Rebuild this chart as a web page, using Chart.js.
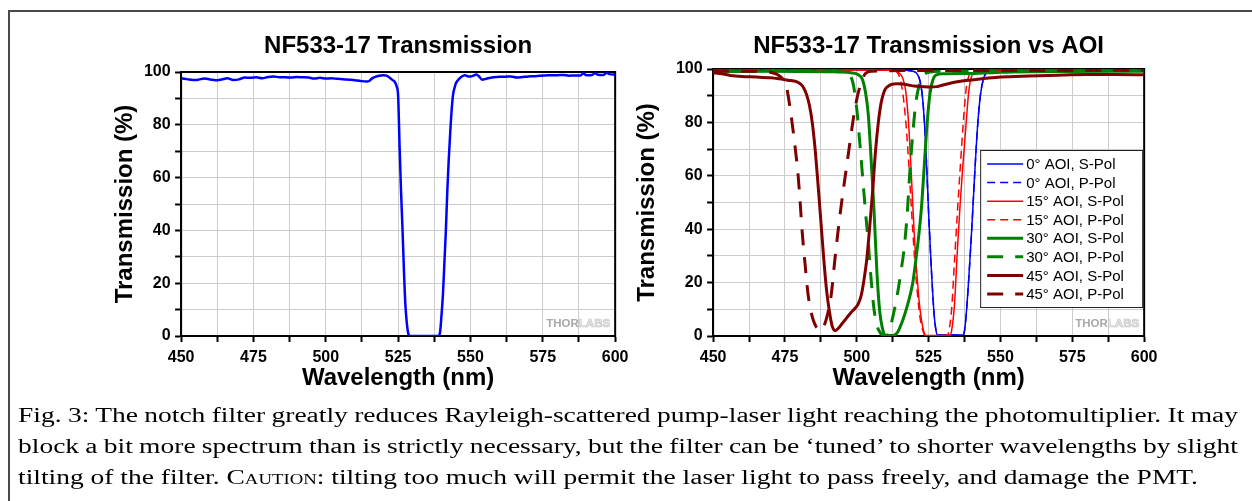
<!DOCTYPE html>
<html>
<head>
<meta charset="utf-8">
<script src="https://cdn.jsdelivr.net/npm/chart.js@4/dist/chart.umd.min.js"></script>
<style>
  body { margin: 0; background: #fff; width: 1252px; height: 501px; overflow: hidden; position: relative; }
  #frame { position: absolute; left: 8px; top: 10px; width: 1260px; height: 500px; border-left: 2px solid #4a4a4a; border-top: 2px solid #4a4a4a; }
  .box { position: absolute; top: 20px; height: 382px; }
  #leftBox { left: 100px; width: 534px; }
  #rightBox { left: 625px; width: 538px; }
  #caption { position: absolute; left: 18px; top: 400px; font-family: "Liberation Serif", "Times New Roman", serif; font-size: 20.5px; line-height: 31px; color: #000; }
  #caption .line { height: 31px; }
  #caption .line span { display: inline-block; white-space: nowrap; transform-origin: 0 0; }
  #caption .sc { font-variant: small-caps; }
</style>
</head>
<body>
<div id="frame"></div>
<div class="box" id="leftBox"><canvas id="transChart"></canvas></div>
<div class="box" id="rightBox"><canvas id="aoiChart"></canvas></div>
<div id="caption">
  <div class="line"><span>Fig. 3: The notch filter greatly reduces Rayleigh-scattered pump-laser light reaching the photomultiplier. It may</span></div>
  <div class="line"><span>block a bit more spectrum than is strictly necessary, but the filter can be ‘tuned’ to shorter wavelengths by slight</span></div>
  <div class="line"><span>tilting of the filter. C<span class="sc">aution</span>: tilting too much will permit the laser light to pass freely, and damage the PMT.</span></div>
</div>

<script>
// ====== AXIS LABELS ======
const xTickLabels = [450, 475, 500, 525, 550, 575, 600];
const yTickLabels = [0, 20, 40, 60, 80, 100];

// ====== LEFT PANEL: measured transmission ======
const measWl = [450, 452, 454, 456, 458, 460, 462, 464, 466, 468, 470, 472, 474, 476, 478, 480, 482, 484, 486, 488,
  490, 492, 494, 496, 498, 500, 502, 504, 506, 508, 510, 512, 514, 515, 516, 518, 520, 521, 522, 523, 524, 524.5,
  525, 525.5, 526, 526.5, 527, 527.5, 528, 528.5, 529, 539, 539.5, 540, 540.5, 541, 541.5, 542, 542.5, 543, 543.5,
  544, 544.5, 545, 546, 547, 548, 549, 550, 551, 552, 553, 554, 555, 556, 558, 560, 562, 564, 566, 568, 570, 572,
  574, 576, 578, 580, 582, 584, 586, 588, 589, 590, 592, 593, 594, 596, 597, 598, 600];
const measT = [97.6, 97.3, 97.0, 97.1, 97.5, 97.2, 96.9, 97.2, 97.6, 97.0, 97.2, 97.9, 97.8, 98.0, 97.6, 98.1, 98.3, 98.0, 98.0, 97.9,
  98.1, 98.0, 97.9, 97.5, 97.8, 97.5, 97.6, 97.4, 97.3, 97.1, 96.9, 96.6, 96.4, 96.6, 97.6, 98.5, 98.8, 98.6, 97.9, 97.0, 96.0, 94.5,
  91, 72, 55, 41, 25, 12, 5, 1, 0, 0, 1.5, 8, 16, 28, 40, 55, 67, 77, 85.6,
  91.5, 94, 95.8, 97.3, 98.3, 98.8, 98.4, 98.3, 98.6, 99.1, 98.3, 97.1, 97.3, 97.6, 98.0, 98.2, 98.2, 98.3, 97.9, 98.1, 98.3, 98.4,
  98.6, 98.7, 98.8, 98.8, 98.9, 98.6, 98.7, 98.7, 99.5, 98.8, 98.9, 99.5, 99.0, 98.9, 99.7, 99.2, 99.0];

// ====== RIGHT PANEL: transmission vs AOI ======
const aoi0SWl = [450, 480, 500, 515, 518, 520, 521, 522, 523, 524, 525, 526, 527, 527.5, 528, 537, 537.5, 538, 539, 540,
  541, 542, 543, 544, 545, 546, 548, 560, 600];
const aoi0ST = [99.6, 99.6, 99.7, 99.6, 99.4, 99.0, 98.2, 95.5, 88, 71, 46, 24, 7, 2.5, 0.4, 0.4, 2, 7, 22, 40,
  60, 78, 90, 96, 98.5, 99.2, 99.5, 99.6, 99.6];
// at normal incidence both polarisations coincide
const aoi0PWl = aoi0SWl;
const aoi0PT = aoi0ST;

const aoi15SWl = [450, 500, 512, 514, 515, 516, 517, 518, 519, 520, 521, 522, 523, 523.5, 524, 532.5, 533, 534, 535, 536,
  537, 538, 539, 540, 541, 542, 545, 600];
const aoi15ST = [99.5, 99.6, 99.5, 99.0, 98.2, 96.5, 92, 80, 60, 38, 22, 10, 3, 1, 0.2, 0.3, 2, 12, 32, 50,
  65, 79, 92, 97.5, 98.8, 99.3, 99.5, 99.6];
const aoi15PWl = [450, 500, 512, 514, 515, 516, 517, 518, 519, 520, 521, 522, 523, 523.5, 524, 531.5, 532, 533, 534, 535,
  536, 537, 538, 539, 540, 545, 600];
const aoi15PT = [99.6, 99.7, 99.6, 98.8, 96.5, 91, 81, 66, 48, 31, 17, 7, 2, 0.5, 0.1, 0.2, 1.5, 10, 28, 46,
  63, 79, 92, 97.5, 99.2, 99.6, 99.7];

const aoi30SWl = [450, 470, 490, 495, 498, 500, 501, 502, 503, 504, 505, 506, 507, 508, 509, 509.5, 510, 512.5, 513.5, 514.5,
  515.5, 516.5, 517.5, 518.5, 519.5, 520.5, 521.5, 522.5, 523.5, 524.5, 525.5, 526.5, 527.5, 530, 540, 550, 560, 600];
const aoi30ST = [99.0, 99.2, 99.0, 98.9, 98.6, 98.2, 97.5, 96, 91.5, 83, 66, 47, 24, 9, 2.5, 0.8, 0.2, 0.2, 0.6, 2,
  4.5, 7.5, 11, 15, 20, 28, 37, 48, 64, 80, 91, 96, 97.7, 98.2, 98.3, 98.8, 99.0, 99.2];
const aoi30PWl = [450, 470, 490, 494, 496, 497.5, 498.5, 499, 500, 501, 502, 503, 504, 505, 506, 507, 508, 509, 510.5, 511.5,
  512.5, 513.5, 514.5, 515.5, 516.5, 517.5, 518.5, 519.5, 520.5, 521.5, 522.5, 523.5, 525, 530, 560, 600];
const aoi30PT = [99.3, 99.4, 99.2, 99.0, 98.7, 97.8, 95.5, 93, 85, 73, 60, 47, 35, 21, 10, 4, 1.5, 0.3, 0.2, 2.5,
  7, 12, 18, 25, 33, 45, 62, 76, 87, 93, 96.5, 98, 98.8, 99.2, 99.3, 99.4];

const aoi45SWl = [450, 453, 456, 460, 465, 470, 473, 476, 479, 480.5, 481.5, 482.5, 483.5, 484.5, 485.5, 486.5, 487.5, 488.5,
  489.5, 490.5, 491.5, 492.5, 493.5, 495, 496.5, 498, 499.5, 500.5, 501.5, 502.5, 503.5, 504.5, 505.5, 506.5, 507.5, 508.5,
  509.5, 510.5, 512, 514, 516, 518, 520, 522, 525, 528, 530, 535, 540, 545, 550, 560, 570, 580, 590, 600];
const aoi45ST = [98.6, 98.2, 97.6, 97.2, 97.0, 96.7, 96.3, 95.8, 95.3, 94.3, 93, 90.5, 86.5, 80, 70, 57, 43, 29,
  17, 9, 3.5, 2, 2.8, 4.8, 6.8, 8.8, 10.5, 12, 15, 21, 29, 41, 54, 69, 80, 87.5,
  91.5, 93.2, 94.2, 94.5, 94.4, 94.0, 93.6, 93.4, 93.3, 93.4, 94.0, 95.2, 95.9, 96.5, 97.0, 97.4, 97.7, 97.9, 97.9, 97.8];
const aoi45PWl = [450, 460, 468, 471, 473, 474.5, 475.3, 476.7, 478.4, 479.6, 480.3, 481, 482, 483, 484, 485, 486, 487,
  487.5, 488.5, 489.9, 491.1, 492.3, 493.4, 494.6, 496, 497.3, 498.6, 499.7, 500.6, 501.5, 502.1, 503, 505, 520, 600];
const aoi45PT = [99.3, 99.2, 99.0, 98.5, 97.5, 96, 94.6, 86, 72, 60, 50, 39, 27, 16, 9.5, 5.5, 3.2, 2.2,
  2, 3.5, 8.5, 15.4, 27.8, 38.5, 49, 60, 70, 80, 87, 91.5, 94.6, 96.5, 98.3, 99.2, 99.4, 99.5];

const aoiNames = ["0° AOI, S-Pol", "0° AOI, P-Pol", "15° AOI, S-Pol", "15° AOI, P-Pol",
  "30° AOI, S-Pol", "30° AOI, P-Pol", "45° AOI, S-Pol", "45° AOI, P-Pol"];
const aoiColors = ["#0000ff", "#0000ff", "#ff0000", "#ff0000", "#008000", "#008000", "#800000", "#800000"];

// ====== CAPTION FIT (wide, justified lines like the scan) ======
(function fitCaption() {
  const spans = Array.from(document.querySelectorAll("#caption .line > span"));
  const last = spans[spans.length - 1];
  const s = 1180 / last.getBoundingClientRect().width;
  spans.forEach((sp, i) => {
    if (i < spans.length - 1) {
      const gaps = (sp.textContent.match(/ /g) || []).length;
      const extra = (1220 / s - sp.getBoundingClientRect().width) / gaps;
      sp.style.wordSpacing = extra + "px";
    }
    sp.style.transform = "scaleX(" + s + ")";
  });
})();

// ====== HELPERS ======
function toPoints(wl, t) {
  return wl.map((x, i) => ({ x: x, y: t[i] }));
}

const FONT = "'Liberation Sans', Arial, sans-serif";
Chart.defaults.font.family = FONT;
Chart.defaults.color = "#000";

// black frame round the plot area
const plotFrame = {
  id: "plotFrame",
  beforeDatasetsDraw(chart) {
    const { ctx, chartArea: a } = chart;
    ctx.save();
    ctx.strokeStyle = "#000";
    ctx.lineWidth = 2;
    ctx.strokeRect(a.left, a.top, a.right - a.left, a.bottom - a.top);
    ctx.restore();
  }
};

// grey THORLABS mark, bottom right of the plot
const thorlabsMark = {
  id: "thorlabsMark",
  beforeDatasetsDraw(chart) {
    const { ctx, chartArea: a } = chart;
    ctx.save();
    ctx.font = "bold 11.5px " + FONT;
    ctx.textAlign = "right";
    ctx.textBaseline = "alphabetic";
    const xr = a.right - 5, yb = a.bottom - 9;
    const wLabs = ctx.measureText("LABS").width;
    ctx.fillStyle = "#ececec";
    ctx.fillText("LABS", xr, yb);
    ctx.strokeStyle = "#c4c4c4";
    ctx.lineWidth = 0.7;
    ctx.strokeText("LABS", xr, yb);
    ctx.fillStyle = "#a8a8a8";
    ctx.fillText("THOR", xr - wLabs, yb);
    ctx.restore();
  }
};

// boxed legend inside the AOI plot
const aoiLegend = {
  id: "aoiLegend",
  afterDatasetsDraw(chart) {
    const { ctx, chartArea: a } = chart;
    const w = 162, h = 157;
    const x0 = a.right - w - 2, y0 = a.top + 81;
    ctx.save();
    ctx.fillStyle = "#fff";
    ctx.fillRect(x0, y0, w, h);
    ctx.strokeStyle = "#222";
    ctx.lineWidth = 1;
    ctx.strokeRect(x0 + 0.5, y0 + 0.5, w, h);
    ctx.font = "15px " + FONT;
    ctx.textBaseline = "middle";
    chart.data.datasets.forEach((ds, i) => {
      const y = y0 + 14 + i * 18.57;
      ctx.strokeStyle = ds.borderColor;
      ctx.lineWidth = ds.borderWidth;
      ctx.setLineDash(ds.borderDash || []);
      ctx.beginPath();
      ctx.moveTo(x0 + 7, y);
      ctx.lineTo(x0 + 43, y);
      ctx.stroke();
      ctx.setLineDash([]);
      ctx.fillStyle = "#000";
      ctx.fillText(ds.label, x0 + 46, y + 1);
    });
    ctx.restore();
  }
};

function makeOptions(titleText, titleBottom, yTitleInner, padLeft) {
  return {
    responsive: true,
    maintainAspectRatio: false,
    animation: false,
    events: [],
    layout: { padding: { left: padLeft, right: 0, top: 0, bottom: 17.8 } },
    elements: { point: { radius: 0 }, line: { cubicInterpolationMode: "monotone" } },
    plugins: {
      legend: { display: false },
      tooltip: { enabled: false },
      title: {
        display: true,
        text: titleText,
        fullSize: false,
        font: { size: 24, weight: "bold" },
        color: "#000",
        padding: { top: 12, bottom: titleBottom }
      }
    },
    scales: {
      x: {
        type: "linear",
        min: 450,
        max: 600,
        border: { color: "#000", width: 2 },
        grid: { color: "#cccccc", lineWidth: 1, tickColor: "#000", tickWidth: 2, tickLength: 6 },
        ticks: {
          stepSize: 12.5,
          autoSkip: false,
          maxRotation: 0,
          padding: 5.5,
          font: { size: 16, weight: "bold" },
          callback: v => (xTickLabels.includes(v) ? v : "")
        },
        title: {
          display: true,
          text: "Wavelength (nm)",
          font: { size: 24, weight: "bold", lineHeight: 0.5 },
          padding: { top: 0, bottom: 0 }
        }
      },
      y: {
        min: 0,
        max: 100,
        border: { color: "#000", width: 2 },
        grid: { color: "#cccccc", lineWidth: 1, tickColor: "#000", tickWidth: 2, tickLength: 6 },
        ticks: {
          stepSize: 10,
          autoSkip: false,
          padding: 4.5,
          font: { size: 16, weight: "bold" },
          callback: v => (yTickLabels.includes(v) ? v : "")
        },
        title: {
          display: true,
          text: "Transmission (%)",
          font: { size: 24, weight: "bold" },
          padding: { top: 0, bottom: yTitleInner }
        }
      }
    }
  };
}

// ====== LEFT CHART ======
new Chart(document.getElementById("transChart").getContext("2d"), {
  type: "line",
  data: {
    datasets: [{
      label: "NF533-17",
      data: toPoints(measWl, measT),
      borderColor: "#0000ff",
      borderWidth: 2.5,
      fill: false
    }]
  },
  options: makeOptions("NF533-17 Transmission", 11.2, 0, 10.6),
  plugins: [plotFrame, thorlabsMark]
});

// ====== RIGHT CHART ======
const aoiSeries = [
  [aoi0SWl, aoi0ST], [aoi0PWl, aoi0PT], [aoi15SWl, aoi15ST], [aoi15PWl, aoi15PT],
  [aoi30SWl, aoi30ST], [aoi30PWl, aoi30PT], [aoi45SWl, aoi45ST], [aoi45PWl, aoi45PT]
];

new Chart(document.getElementById("aoiChart").getContext("2d"), {
  type: "line",
  data: {
    datasets: aoiSeries.map((s, i) => {
      const thick = i >= 4;
      const dashed = i % 2 === 1;
      return {
        label: aoiNames[i],
        data: toPoints(s[0], s[1]),
        borderColor: aoiColors[i],
        borderWidth: thick ? 3 : 1.5,
        borderDash: dashed ? (thick ? [16, 12] : [8, 5]) : [],
        fill: false,
        order: aoiSeries.length - i // later curves on top
      };
    })
  },
  options: makeOptions("NF533-17 Transmission vs AOI", 8.2, 10, 7.6),
  plugins: [plotFrame, thorlabsMark, aoiLegend]
});
</script>
</body>
</html>
